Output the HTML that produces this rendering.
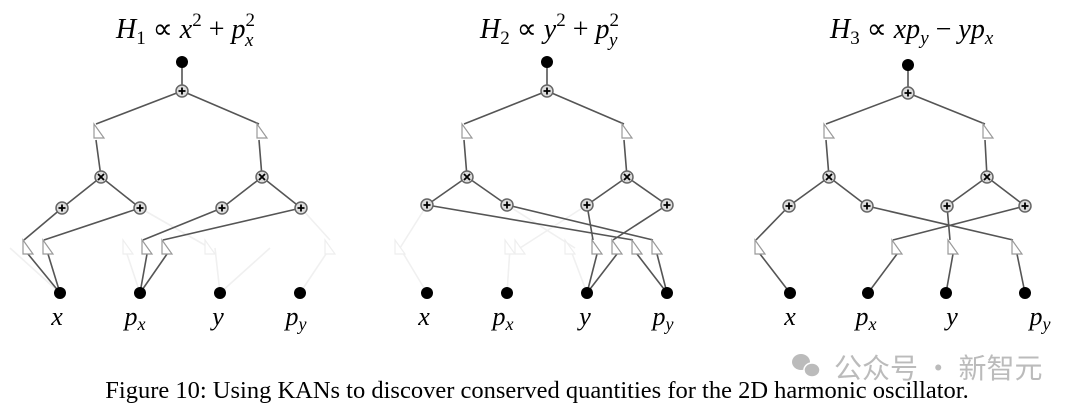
<!DOCTYPE html>
<html><head><meta charset="utf-8"><style>
body{margin:0;background:#fff;}
svg{display:block}
</style></head><body>
<svg width="1080" height="411" viewBox="0 0 1080 411" xmlns="http://www.w3.org/2000/svg">
<defs>
<g id="pl"><circle r="6" fill="#ddd" stroke="#666" stroke-width="1.5"/><path d="M-3.5 0H3.5M0 -3.5V3.5" stroke="#000" stroke-width="1.8"/></g>
<g id="ml"><circle r="6" fill="#ddd" stroke="#666" stroke-width="1.5"/><path d="M-3 -3L3 3M3 -3L-3 3" stroke="#000" stroke-width="1.8"/></g>
<g id="tr"><path d="M-5 -8 L-5 6 L5 6 Z" fill="#fff" stroke="#999" stroke-width="1.2"/></g>
<g id="trf"><path d="M-5 -8 L-5 6 L5 6 Z" fill="#fff" stroke="#eee" stroke-width="1.2"/></g>
</defs>
<g font-family="Liberation Serif, serif" font-style="italic" font-size="28" fill="#000">
<text x="116" y="38">H<tspan font-size="19" dy="6" font-style="normal">1</tspan><tspan dy="-6" font-style="normal"> ∝ </tspan>x<tspan font-size="19" dy="-12" font-style="normal">2</tspan><tspan dy="12" font-style="normal"> + </tspan>p<tspan font-size="19" dy="-12" font-style="normal">2</tspan><tspan font-size="19" dx="-10" dy="20">x</tspan></text>
<text x="480" y="38">H<tspan font-size="19" dy="6" font-style="normal">2</tspan><tspan dy="-6" font-style="normal"> ∝ </tspan>y<tspan font-size="19" dy="-12" font-style="normal">2</tspan><tspan dy="12" font-style="normal"> + </tspan>p<tspan font-size="19" dy="-12" font-style="normal">2</tspan><tspan font-size="19" dx="-10" dy="20">y</tspan></text>
<text x="830" y="38">H<tspan font-size="19" dy="6" font-style="normal">3</tspan><tspan dy="-6" font-style="normal"> ∝ </tspan>xp<tspan font-size="19" dy="6">y</tspan><tspan dy="-6" font-style="normal"> − </tspan>yp<tspan font-size="19" dy="6">x</tspan></text>
</g>

<g stroke="#555" stroke-width="1.6" fill="none">
<g stroke="#f0f0f0"><path d="M140 208L210 248M140 293L125 248M220 293L215 248M300 293L330 248M301 208L330 240M220 293L270 248M60 293L10 248"/></g>
<path d="M182 62V91M182 91L96 124M182 91L259 124M96 140L101 177M259 140L262 177M101 177L62 208M101 177L140 208M262 177L222 208M262 177L301 208M62 208L24 240M140 208L44 240M222 208L143 240M301 208L163 240M28 254L60 293M48 254L60 293M147 254L140 293M167 254L140 293"/>
<g stroke="#f0f0f0"><path d="M427 205L400 248M427 293L400 248M507 293L510 248M587 293L570 248M507 205L575 248M587 205L520 248"/></g>
<path d="M547 62V91M547 91L464 124M547 91L624 124M464 140L467 177M624 140L627 177M467 177L427 205M467 177L507 205M627 177L587 205M627 177L667 205M427 205L633 240M507 205L653 240M587 205L593 240M667 205L613 240M597 254L587 293M617 254L587 293M637 254L667 293M657 254L667 293"/>
<path d="M908 65V93M908 93L826 124M908 93L985 124M826 140L829 177M985 140L987 177M829 177L789 206M829 177L867 206M987 177L947 206M987 177L1025 206M789 206L756 240M867 206L1013 240M947 206L950 240M1025 206L893 240M760 254L790 293M897 254L868 293M953 254L946 293M1017 254L1025 293"/>
</g>
<g>
<circle cx="182" cy="62" r="6"/><use href="#pl" x="182" y="91"/>
<use href="#tr" x="99" y="132"/><use href="#tr" x="262" y="132"/>
<use href="#ml" x="101" y="177"/><use href="#ml" x="262" y="177"/>
<use href="#pl" x="62" y="208"/><use href="#pl" x="140" y="208"/><use href="#pl" x="222" y="208"/><use href="#pl" x="301" y="208"/>
<use href="#tr" x="28" y="248"/><use href="#tr" x="48" y="248"/><use href="#tr" x="147" y="248"/><use href="#tr" x="167" y="248"/>
<use href="#trf" x="128" y="248"/><use href="#trf" x="210" y="248"/><use href="#trf" x="330" y="248"/>
<circle cx="60" cy="293" r="6"/><circle cx="140" cy="293" r="6"/><circle cx="220" cy="293" r="6"/><circle cx="300" cy="293" r="6"/>

<circle cx="547" cy="62" r="6"/><use href="#pl" x="547" y="91"/>
<use href="#tr" x="467" y="132"/><use href="#tr" x="627" y="132"/>
<use href="#ml" x="467" y="177"/><use href="#ml" x="627" y="177"/>
<use href="#pl" x="427" y="205"/><use href="#pl" x="507" y="205"/><use href="#pl" x="587" y="205"/><use href="#pl" x="667" y="205"/>
<use href="#tr" x="597" y="248"/><use href="#tr" x="617" y="248"/><use href="#tr" x="637" y="248"/><use href="#tr" x="657" y="248"/>
<use href="#trf" x="400" y="248"/><use href="#trf" x="510" y="248"/><use href="#trf" x="520" y="248"/><use href="#trf" x="570" y="248"/>
<circle cx="427" cy="293" r="6"/><circle cx="507" cy="293" r="6"/><circle cx="587" cy="293" r="6"/><circle cx="667" cy="293" r="6"/>

<circle cx="908" cy="65" r="6"/><use href="#pl" x="908" y="93"/>
<use href="#tr" x="829" y="132"/><use href="#tr" x="988" y="132"/>
<use href="#ml" x="829" y="177"/><use href="#ml" x="987" y="177"/>
<use href="#pl" x="789" y="206"/><use href="#pl" x="867" y="206"/><use href="#pl" x="947" y="206"/><use href="#pl" x="1025" y="206"/>
<use href="#tr" x="760" y="248"/><use href="#tr" x="897" y="248"/><use href="#tr" x="953" y="248"/><use href="#tr" x="1017" y="248"/>
<circle cx="790" cy="293" r="6"/><circle cx="868" cy="293" r="6"/><circle cx="946" cy="293" r="6"/><circle cx="1025" cy="293" r="6"/>
</g>

<g font-family="Liberation Serif, serif" font-style="italic" font-size="26" fill="#000" text-anchor="middle">
<text x="57" y="325">x</text><text x="135" y="325">p<tspan font-size="18" dy="5">x</tspan></text><text x="218" y="325">y</text><text x="296" y="325">p<tspan font-size="18" dy="5">y</tspan></text>
<text x="424" y="325">x</text><text x="503" y="325">p<tspan font-size="18" dy="5">x</tspan></text><text x="585" y="325">y</text><text x="663" y="325">p<tspan font-size="18" dy="5">y</tspan></text>
<text x="790" y="325">x</text><text x="866" y="325">p<tspan font-size="18" dy="5">x</tspan></text><text x="952" y="325">y</text><text x="1040" y="325">p<tspan font-size="18" dy="5">y</tspan></text>
</g>

<g fill="#bbb">
<ellipse cx="801" cy="362" rx="9" ry="8"/><ellipse cx="812" cy="370" rx="8" ry="7" stroke="#fff" stroke-width="1.5"/>
</g>
<text x="834" y="378" font-family="Noto Sans CJK SC, sans-serif" font-size="28" fill="#bbb">公众号 · 新智元</text>
<text x="537" y="398" text-anchor="middle" font-family="Liberation Serif, serif" font-size="24.5" fill="#000">Figure 10: Using KANs to discover conserved quantities for the 2D harmonic oscillator.</text>
</svg>
</body></html>
